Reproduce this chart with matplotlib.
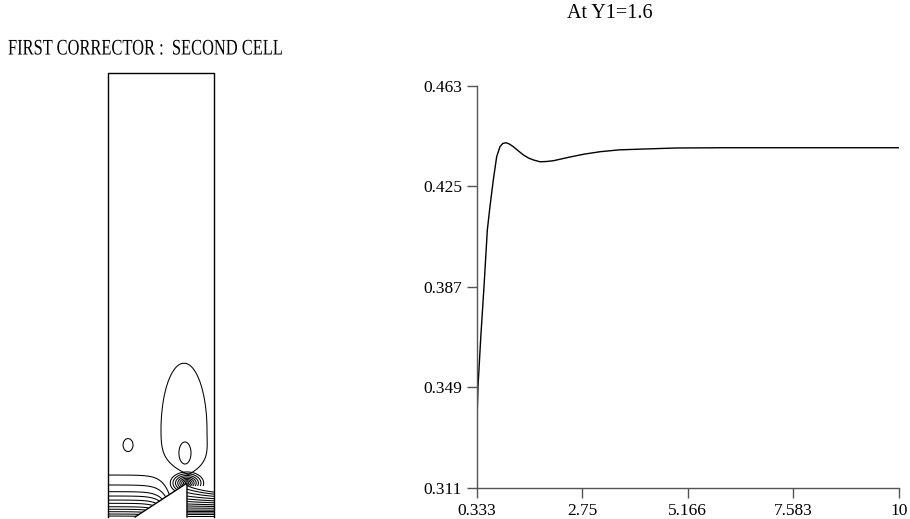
import numpy as np
import matplotlib
matplotlib.use("Agg")
from matplotlib import pyplot as plt
from matplotlib import patheffects as pe
from matplotlib.transforms import Affine2D

# ---- right panel: response at Y1=1.6 ----
t_vals = [0.333, 0.363, 0.43, 0.50, 0.576, 0.637, 0.713, 0.79, 0.866, 0.93,
          1.004, 1.08, 1.171, 1.28, 1.40, 1.52, 1.63, 1.78, 1.93, 2.09,
          2.28, 2.47, 2.8, 3.16, 3.6, 4.14, 4.9, 6.0, 7.5, 10.0]
u_vals = [0.3329, 0.3493, 0.369, 0.387, 0.4084, 0.4173, 0.4273, 0.4361, 0.4399, 0.4411,
          0.4414, 0.4409, 0.4399, 0.4384, 0.4368, 0.4356, 0.4349, 0.4342, 0.4343, 0.4346,
          0.4353, 0.4360, 0.4371, 0.4380, 0.4387, 0.4390, 0.4394, 0.4395, 0.4395, 0.4395]
x_ticks = [0.333, 2.75, 5.166, 7.583, 10]
x_labels = ["0.333", "2.75", "5.166", "7.583", "10"]
y_ticks = [0.311, 0.349, 0.387, 0.425, 0.463]
y_labels = ["0.311", "0.349", "0.387", "0.425", "0.463"]

# ---- left panel: cell geometry, cell width = 1 ----
cell_height = 4.19
step_foot = 0.255
tip_x, tip_y = 0.745, 0.32

# contour levels
left_levels = [0.009, 0.028, 0.050, 0.073, 0.097, 0.129, 0.160, 0.198, 0.239, 0.302, 0.396]
right_levels = [0.009, 0.024, 0.038, 0.052, 0.066, 0.085, 0.104, 0.123, 0.146, 0.170, 0.198, 0.231, 0.264, 0.297]
tip_radii = [0.012, 0.022, 0.033, 0.045, 0.058, 0.072, 0.088, 0.105]
# small eddies: centre x, centre y, half width, half height
eddy_cx = [0.726, 0.189]
eddy_cy = [0.604, 0.679]
eddy_a = [0.057, 0.047]
eddy_b = [0.104, 0.061]
# big eddy outline
big_cx, big_cy, big_hw = 0.717, 0.82, 0.217
big_up, big_down, big_drift = 0.632, 0.42, 0.04


class Squeeze(pe.AbstractPathEffect):
    """draw text squeezed horizontally (condensed look)"""
    def __init__(self, sx, x0):
        super().__init__()
        self.sx = sx
        self.x0 = x0

    def draw_path(self, renderer, gc, tpath, affine, rgbFace=None):
        aff = affine + Affine2D().translate(-self.x0, 0).scale(self.sx, 1).translate(self.x0, 0)
        renderer.draw_path(gc, tpath, aff, rgbFace)


plt.rcParams['font.family'] = ['Liberation Serif', 'DejaVu Serif']
fig = plt.figure(figsize=(9.1, 5.19), dpi=100)

# ================= left panel =================
ax1 = fig.add_axes([108 / 910, 2 / 519, 106 / 910, 444 / 519])
ax1.set_xlim(0, 1)
ax1.set_ylim(0, cell_height)
ax1.axis('off')

x = np.linspace(0, 1, 401)
y = np.linspace(0, cell_height, 1677)
X, Y = np.meshgrid(x, y)
solid = (X >= step_foot) & (X <= tip_x) & (Y <= (X - step_foot) / (tip_x - step_foot) * tip_y)

kw = dict(colors='k', linewidths=0.75)

# left inlet channel
psi_a = Y + 0.06 * np.exp(np.minimum((X - 0.5) / 0.07, 30))
psi_a = np.where(solid | (X > tip_x) | (Y > 0.6), np.nan, psi_a)
ax1.contour(X, Y, psi_a, levels=left_levels, **kw)

# right channel below the step tip
psi_b = Y * (1 + 19 * (X - tip_x) * Y ** 2)
psi_b = np.where((X < tip_x) | (Y > tip_y + 0.02), np.nan, psi_b)
ax1.contour(X, Y, psi_b, levels=right_levels, **kw)

# loops around the tip
r = np.sqrt(((X - tip_x) / 1.5) ** 2 + (Y - tip_y) ** 2)
r = np.where(solid | ((X > tip_x) & (Y < tip_y - 0.03)), np.nan, r)
ax1.contour(X, Y, r, levels=tip_radii, **kw)

# big eddy
dy = Y - big_cy
tt = np.where(dy > 0, dy / big_up, -dy / big_down)
tc = np.clip(tt, 0, 1)
w = np.where(dy > 0, np.sqrt(1 - tc ** 2), 1 - tc ** 4)
cx = big_cx + np.where(dy < 0, big_drift * tc ** 2, 0)
phi = np.abs(X - cx) / (big_hw * np.maximum(w, 1e-6))
phi = np.where(tt >= 1, 10, phi)
ax1.contour(X, Y, phi, levels=[1], **kw)

# small eddies
for cxe, cye, a, b in zip(eddy_cx, eddy_cy, eddy_a, eddy_b):
    ell = ((X - cxe) / a) ** 2 + ((Y - cye) / b) ** 2
    ax1.contour(X, Y, ell, levels=[1], **kw)

# cell walls
ax1.plot([0, 0, 1, 1], [0, cell_height, cell_height, 0], color='k', lw=1.0, clip_on=False)
ax1.plot([step_foot, tip_x, tip_x], [0, tip_y, 0], color='k', lw=1.0, clip_on=False)

fig.text(8 / 910, 1 - 50 / 519, "FIRST CORRECTOR :  SECOND CELL", fontsize=16,
         ha='left', va='center', path_effects=[Squeeze(0.74, 8)])

# ================= right panel =================
ax2 = fig.add_axes([476.7 / 910, 1 - 488 / 519, 422.3 / 910, 402.5 / 519])
ax2.plot(t_vals, u_vals, color='k', lw=1.0)
ax2.set_xlim(0.333, 10)
ax2.set_ylim(0.311, 0.463)
ax2.set_xticks(x_ticks)
ax2.set_xticklabels(x_labels)
ax2.set_yticks(y_ticks)
ax2.set_yticklabels(y_labels)
for s in ['top', 'right']:
    ax2.spines[s].set_visible(False)
for s in ['left', 'bottom']:
    ax2.spines[s].set_color('#555555')
    ax2.spines[s].set_linewidth(1.0)
ax2.tick_params(direction='out', length=7.5, width=1.0, color='#555555',
                labelsize=12.5, pad=3)
ax2.patch.set_visible(False)

fig.text(610 / 910, 1 - 14 / 519, "At Y1=1.6", fontsize=14.5, ha='center', va='center')

plt.savefig('out.png', dpi=100)
plt.close()
